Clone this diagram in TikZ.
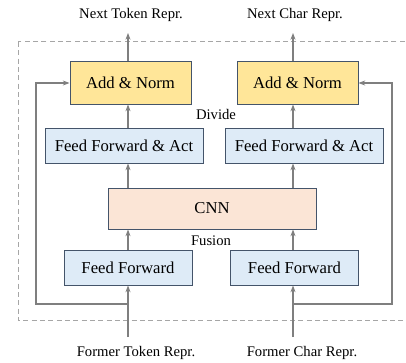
\documentclass[tikz,border=0pt]{standalone}
\usepackage{fontspec}
\setmainfont{Liberation Serif}
\usepackage{tikz}
\usetikzlibrary{arrows.meta, positioning, calc}
\definecolor{normyellow}{HTML}{FFE699}
\definecolor{ffblue}{HTML}{DEEBF7}
\definecolor{cnnpeach}{HTML}{FBE5D6}
\definecolor{boxedge}{HTML}{44546A}
\definecolor{flowgray}{HTML}{7F7F7F}

\begin{document}
\begin{tikzpicture}[x=0.6pt, y=-0.6pt,
  blk/.style={draw=boxedge, line width=0.6pt, inner sep=0pt, font=\rmfamily\fontsize{10}{12}\selectfont},
  normbox/.style={blk, fill=normyellow, minimum width=72.6pt, minimum height=25.2pt},
  actbox/.style={blk, fill=ffblue, minimum width=94.8pt, minimum height=21pt},
  ffbox/.style={blk, fill=ffblue, minimum width=76.8pt, minimum height=21pt},
  cnnbox/.style={blk, fill=cnnpeach, minimum width=124.8pt, minimum height=24.6pt},
  lbl/.style={inner sep=1pt, font=\rmfamily\fontsize{8.8}{10}\selectfont},
  flow/.style={draw=flowgray, line width=0.75pt, -{Stealth[length=4pt, width=3pt]}}
]
  \useasboundingbox (0,0) rectangle (406,362);
  % frame (right side lies outside the page)
  \draw[dashed, draw=gray!70, line width=0.6pt, dash pattern=on 3pt off 2pt] (18,42) rectangle (425,320);

  % blocks
  \node[normbox] (normT) at (130.5, 83) {Add \& Norm};
  \node[normbox] (normC) at (297.5, 83) {Add \& Norm};
  \node[actbox] (actT) at (124, 145.5) {Feed Forward \& Act};
  \node[actbox] (actC) at (304, 145.5) {Feed Forward \& Act};
  \node[cnnbox] (cnn) at (212, 208.5) {CNN};
  \node[ffbox] (ffT) at (128, 267.5) {Feed Forward};
  \node[ffbox] (ffC) at (294.5, 267.5) {Feed Forward};

  % labels
  \node[lbl] (outT) at (131, 15) {Next Token Repr.};
  \node[lbl] (outC) at (295, 15) {Next Char Repr.};
  \node[lbl] (divide) at (216, 114) {Divide};
  \node[lbl] (fusion) at (211, 241) {Fusion};
  \node[lbl] (inT) at (136, 353) {Former Token Repr.};
  \node[lbl] (inC) at (302, 353) {Former Char Repr.};

  % columns and residual corners
  \coordinate (colT) at (128, 0);
  \coordinate (colC) at (293, 0);
  \coordinate (outTend) at (128, 33);
  \coordinate (outCend) at (293, 33);
  \coordinate (inTend) at (128, 337);
  \coordinate (inCend) at (293, 337);
  \coordinate (resT) at (128, 304);
  \coordinate (resC) at (293, 304);
  \coordinate (resTl) at (36, 304);
  \coordinate (resCr) at (392, 304);

  % token side
  \draw[flow] (inTend) -- (ffT.south -| colT);
  \draw[flow] (ffT.north -| colT) -- (cnn.south -| colT);
  \draw[flow] (cnn.north -| colT) -- (actT.south -| colT);
  \draw[flow] (actT.north -| colT) -- (normT.south -| colT);
  \draw[flow] (normT.north -| colT) -- (outTend);
  \draw[flow] (resT) -- (resTl) -- (resTl |- normT.west) -- (normT.west);

  % char side
  \draw[flow] (inCend) -- (ffC.south -| colC);
  \draw[flow] (ffC.north -| colC) -- (cnn.south -| colC);
  \draw[flow] (cnn.north -| colC) -- (actC.south -| colC);
  \draw[flow] (actC.north -| colC) -- (normC.south -| colC);
  \draw[flow] (normC.north -| colC) -- (outCend);
  \draw[flow] (resC) -- (resCr) -- (resCr |- normC.east) -- (normC.east);
\end{tikzpicture}
\end{document}
